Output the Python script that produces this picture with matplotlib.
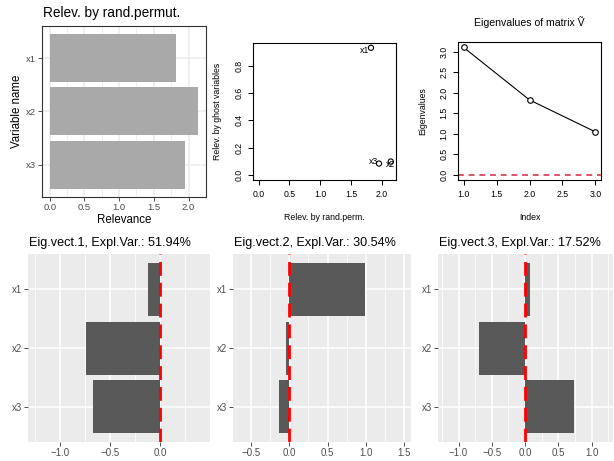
import matplotlib
matplotlib.use("Agg")
import matplotlib.pyplot as plt
import numpy as np

plt.rcParams["font.family"] = ["Liberation Sans", "DejaVu Sans"]

# data
variables = ["x1", "x2", "x3"]
relev_perm = [1.82, 2.14, 1.95]
relev_ghost = [0.93, 0.098, 0.083]
eigenvalues = [3.10, 1.823, 1.046]
expl_var = [51.94, 30.54, 17.52]
eigvec1 = [-0.12, -0.74, -0.67]
eigvec2 = [0.99, -0.04, -0.135]
eigvec3 = [0.07, -0.69, 0.74]
eigvec_xlims = [(-1.316, 0.495), (-0.730, 1.587), (-1.304, 1.323)]

W, H = 614, 461
GG_TXT = "#4D4D4D"
RED_R = "#DF536B"

fig = plt.figure(figsize=(W / 100, H / 100), dpi=100)
fig.patch.set_facecolor("white")


def px_axes(x0, x1, y0, y1):
    # panel box given in image pixels (top-left origin)
    return fig.add_axes([x0 / W, (H - y1) / H, (x1 - x0) / W, (y1 - y0) / H])


def steps(lo, hi, step):
    start = np.ceil(lo / step) * step
    return np.arange(start, hi + 1e-9, step) + 0.0


def fmt(v):
    v = 0.0 if abs(v) < 1e-9 else v
    return f"{v:.1f}".replace("-", "\u2212")


def gg_bars(ax, vals, xlim, color, theme="gray"):
    n = len(variables)
    pos = np.arange(n)
    ax.set_xlim(*xlim)
    ax.set_ylim(n - 0.4, -0.6)
    majors = steps(xlim[0], xlim[1], 0.5)
    minors = [m for m in steps(xlim[0], xlim[1], 0.25)
              if not np.isclose(m * 2, np.round(m * 2))]
    if theme == "gray":
        ax.set_facecolor("#EBEBEB")
        gcol = "white"
        for s in ax.spines.values():
            s.set_visible(False)
    else:
        ax.set_facecolor("white")
        gcol = "#EBEBEB"
        for s in ax.spines.values():
            s.set_color("#333333")
            s.set_linewidth(0.8)
    for m in minors:
        ax.axvline(m, color=gcol, lw=0.55, zorder=0.5)
    for m in majors:
        ax.axvline(m, color=gcol, lw=1.1, zorder=0.6)
    for p in pos:
        ax.axhline(p, color=gcol, lw=1.1, zorder=0.6)
    ax.barh(pos, vals, height=0.9, color=color, zorder=2)
    ax.set_xticks(majors)
    ax.set_xticklabels([fmt(m) for m in majors])
    ax.set_yticks(pos)
    ax.set_yticklabels(variables)
    ax.tick_params(length=2.6, width=0.6, color="#333333", labelcolor=GG_TXT,
                   labelsize=7.0, pad=1.6)


# --- top-left: relevance by random permutation (theme_bw) ---
axA = px_axes(42.3, 205.7, 26, 196.7)
pad = 0.05 * max(relev_perm)
gg_bars(axA, relev_perm, (-pad, max(relev_perm) + pad), "#A9A9A9", theme="bw")
axA.tick_params(labelsize=6.8, pad=2.2)
axA.set_xlabel("Relevance", fontsize=8.3, labelpad=1.5)
axA.set_ylabel("Variable name", fontsize=8.3, labelpad=2)
fig.text(43 / W, 1 - 13 / H, "Relev. by rand.permut.", fontsize=9.8,
         ha="left", va="center")


def base_r(ax, xticks, yticks):
    ax.set_facecolor("white")
    for s in ax.spines.values():
        s.set_color("black")
        s.set_linewidth(0.8)
    ax.set_xticks(xticks)
    ax.set_yticks(yticks)
    ax.set_xticklabels([fmt(t) for t in xticks])
    ax.set_yticklabels([fmt(t) for t in yticks], rotation=90, va="center")
    ax.tick_params(length=3.6, width=0.7, labelsize=6.3, pad=3.5, colors="black")


# --- top-middle: ghost variables vs random permutation ---
axB = px_axes(253.3, 396, 42.7, 180)
xr = max(relev_perm)
yr = max(relev_ghost)
axB.set_xlim(-0.04 * xr, xr * 1.04)
axB.set_ylim(-0.04 * yr, yr * 1.04)
axB.scatter(relev_perm, relev_ghost, s=14, facecolors="none", edgecolors="black",
            linewidths=0.8, zorder=3)
offsets = {"x1": (-1.5, -1.8, "right"), "x2": (0, -2.5, "center"), "x3": (-0.5, 1.5, "right")}
for name, xv, yv in zip(variables, relev_perm, relev_ghost):
    dx, dy, ha = offsets[name]
    axB.annotate(name, (xv, yv), xytext=(dx, dy), textcoords="offset points",
                 ha=ha, va="center", fontsize=6.3)
base_r(axB, np.arange(0, 2.01, 0.5), np.arange(0, 0.81, 0.2))
axB.set_xlabel("Relev. by rand.perm.", fontsize=6.3, labelpad=10)
axB.set_ylabel("Relev. by ghost variables", fontsize=6.3, labelpad=9)

# --- top-right: eigenvalues ---
axC = px_axes(458.3, 600.7, 42.3, 180)
idx = np.arange(1, len(eigenvalues) + 1)
axC.set_xlim(1 - 0.04 * 2, 3 + 0.04 * 2)
er = max(eigenvalues)
axC.set_ylim(-0.04 * er, er * 1.04)
axC.plot(idx, eigenvalues, color="black", lw=0.8, zorder=2)
axC.plot(idx, eigenvalues, "o", ms=4, mfc="white", mec="black", mew=0.8, zorder=3)
axC.axhline(0, color=RED_R, lw=1.4, ls=(0, (3, 2.5)), zorder=1)
base_r(axC, np.arange(1, 3.01, 0.5), np.arange(0, 3.01, 0.5))
axC.set_xlabel("Index", fontsize=6.3, labelpad=10)
axC.set_ylabel("Eigenvalues", fontsize=6.3, labelpad=9)
axC.set_title("Eigenvalues of matrix \u1E7C", fontsize=7.6, pad=12)

# --- bottom row: eigenvectors ---
boxes = [(28.3, 210), (233.3, 411), (438.3, 613)]
for k, (vec, ev, xl, (x0, x1)) in enumerate(zip([eigvec1, eigvec2, eigvec3], expl_var,
                                                 eigvec_xlims, boxes)):
    ax = px_axes(x0, x1, 254.3, 442)
    gg_bars(ax, vec, xl, "#595959")
    ax.axvline(0, color="red", lw=2.0, ls=(0, (5, 2.5)), zorder=3)
    fig.text((x0 + 0.5) / W, 1 - 243.3 / H, f"Eig.vect.{k + 1}, Expl.Var.: {ev:.2f}%",
             fontsize=9.1, ha="left", va="center")

fig.savefig("out.png", dpi=100)
